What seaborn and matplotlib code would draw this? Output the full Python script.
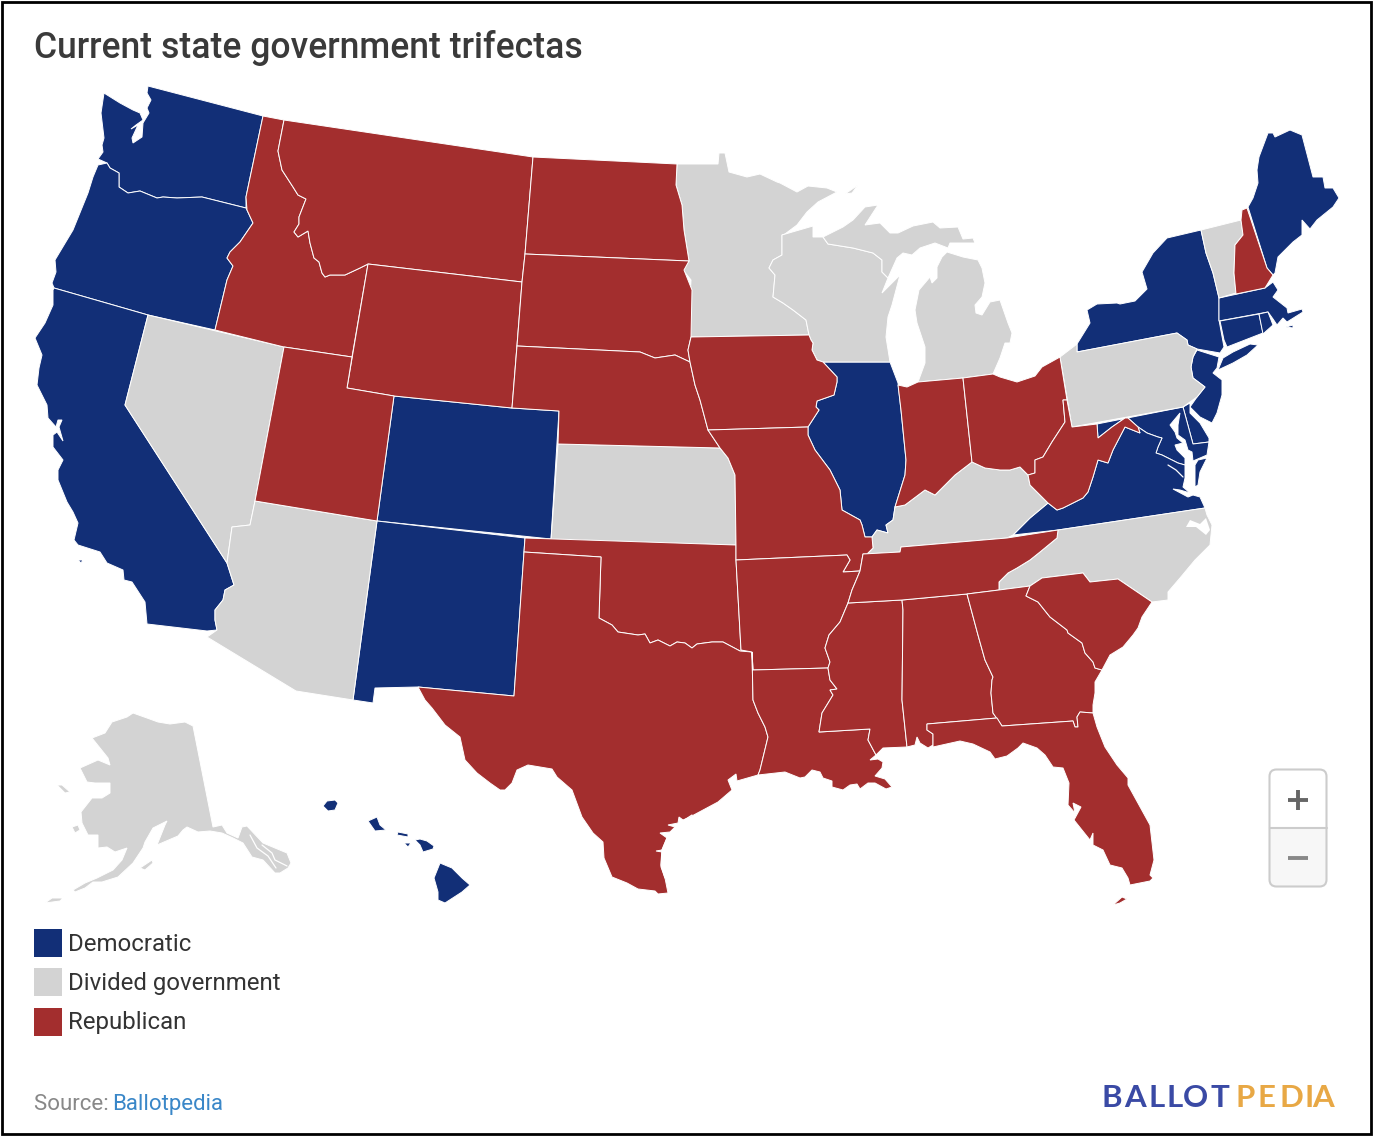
import matplotlib
matplotlib.use("Agg")
import matplotlib.pyplot as plt
from matplotlib.patches import FancyBboxPatch, Rectangle
import pandas as pd
import seaborn as sns

TITLE = "Current state government trifectas"
LEGEND_LABELS = ["Democratic", "Divided government", "Republican"]
COLORS = ["#122f77", "#d3d3d3", "#a32e2e"]

DEMOCRATIC = ["WA", "OR", "CA", "CO", "NM", "IL", "NY", "ME", "MA", "CT", "RI", "NJ", "DE", "MD", "VA", "HI"]
DIVIDED = ["NV", "AZ", "AK", "MN", "WI", "MI", "PA", "VT", "KS", "KY", "NC"]
REPUBLICAN = ["ID", "MT", "WY", "UT", "ND", "SD", "NE", "OK", "TX", "IA", "MO", "AR", "LA", "MS", "AL", "TN",
              "GA", "FL", "SC", "IN", "OH", "WV", "NH"]

RED_RIVER = [(599,618),(612,625),(618,632),(638,635),(645,634),(650,643),(658,640),(670,646),(677,642),(685,643),(692,648),(697,644),(712,642),(723,642),(740,651),(752,652)]

# State outlines (one list of rings per state)
OUTLINES = {
 "WA": [[(148,86),(263,116),(246,197),(246,208),(202,197),(177,198),(163,197),(157,198),(140,191),(128,193),(119,187),(119,173),(110,168),(107,163),(98,159),(103,152),(102,145),(104,138),(101,113),(104,93),(120,103),(133,110),(140,113),(143,120),(136,125),(131,129),(138,125),(132,138),(133,143),(142,137),(143,123),(149,113),(147,108),(151,100),(147,93)]],
 "OR": [[(98,165),(93,177),(88,193),(73,230),(55,260),(56,272),(52,283),(54,288),(148,315),(215,330),(227,280),(233,266),(227,258),(230,252),(240,242),(253,223),(247,210),(246,208),(202,197),(177,198),(163,197),(157,198),(140,191),(128,193),(119,187),(119,173),(110,168),(107,163)]],
 "CA": [[(54,288),(148,315),(125,405),(227,563),(234,585),(225,590),(223,600),(215,610),(215,620),(217,630),(207,631),(147,624),(145,602),(132,582),(124,580),(123,570),(107,563),(100,552),(78,545),(74,540),(78,523),(73,512),(67,502),(58,480),(58,470),(63,460),(53,447),(53,435),(57,432),(63,441),(59,427),(62,420),(58,420),(56,427),(48,418),(47,405),(37,385),(39,368),(42,355),(35,338),(45,323),(53,305),(53,290)],
        [(78,560),(83,560),(81,563)]],
 "NV": [[(148,315),(284,347),(255,501),(250,525),(232,527),(227,563),(125,405)]],
 "ID": [[(263,116),(284,120),(278,151),(282,170),(293,187),(298,195),(306,199),(299,217),(299,224),(294,232),(298,237),(308,231),(310,243),(314,258),(319,262),(322,273),(325,277),(330,275),(345,275),(360,268),(368,264),(352,357),(284,347),(215,330),(227,280),(233,266),(227,258),(230,252),(240,242),(253,223),(247,210),(246,197)]],
 "MT": [[(284,120),(533,157),(525,254),(522,282),(368,264),(360,268),(345,275),(330,275),(325,277),(322,273),(319,262),(314,258),(310,243),(308,231),(298,237),(294,232),(299,224),(299,217),(306,199),(298,195),(293,187),(282,170),(278,151)]],
 "WY": [[(368,264),(522,282),(512,408),(394,396),(347,388)]],
 "UT": [[(284,347),(352,357),(347,388),(394,396),(377,521),(255,501)]],
 "CO": [[(394,396),(512,408),(559,411),(551,539),(377,521)]],
 "NM": [[(377,521),(525,538),(524,552),(514,696),(418,687),(375,688),(373,703),(353,700)]],
 "AZ": [[(255,501),(377,521),(353,700),(296,691),(207,637),(217,630),(215,620),(215,610),(223,600),(225,590),(234,585),(227,563),(232,527),(250,525)]],
 "ND": [[(533,157),(677,164),(676,185),(682,205),(684,230),(689,261),(525,254)]],
 "SD": [[(525,254),(689,261),(684,270),(692,290),(691,337),(688,350),(690,362),(675,355),(655,358),(640,352),(517,346),(522,282)]],
 "NE": [[(517,346),(640,352),(655,358),(675,355),(690,362),(695,385),(700,400),(708,430),(720,448),(558,444),(559,411),(512,408)]],
 "KS": [[(558,444),(720,448),(728,458),(735,475),(736,545),(551,540)]],
 "OK": [[(525,538),(736,545),(736,560),(741,650),(752,652)] + RED_RIVER[::-1][1:] + [(601,557),(524,552)]],
 "TX": [[(524,552),(601,557)] + RED_RIVER + [(753,700),(758,713),(765,727),(768,737),(760,770),(758,775),(737,781),(736,774),(728,780),(732,790),(718,802),(690,817),(683,820),(679,817),(678,823),(668,825),(675,827),(670,832),(660,833),(667,838),(662,850),(656,851),(662,852),(661,867),(665,878),(668,893),(658,894),(655,891),(638,889),(627,883),(612,877),(604,858),(603,842),(593,833),(582,817),(572,790),(557,777),(552,769),(528,765),(517,770),(512,783),(505,790),(500,790),(490,783),(477,773),(465,760),(460,737),(445,725),(432,708),(425,700),(418,687),(514,696)]],
 "MN": [[(677,164),(718,164),(719,153),(725,153),(729,172),(747,177),(760,174),(777,182),(780,183),(797,192),(808,186),(827,188),(837,192),(818,202),(807,212),(797,225),(785,234),(782,235),(782,255),(773,260),(769,268),(775,275),(773,297),(783,303),(793,310),(806,320),(809,335),(688,337),(691,280),(683,270),(689,261),(684,230),(682,205),(676,185)]],
 "IA": [[(691,337),(809,335),(811,340),(813,343),(812,350),(817,360),(823,362),(837,377),(837,382),(834,395),(817,401),(816,407),(819,410),(808,427),(708,430),(700,400),(695,385),(690,362),(688,350)]],
 "MO": [[(708,430),(808,427),(808,435),(815,450),(830,470),(840,490),(842,510),(860,520),(862,525),(865,537),(872,537),(873,548),(867,554),(863,554),(860,571),(843,572),(850,560),(847,555),(736,560),(736,545),(735,475),(728,458),(720,448)]],
 "AR": [[(736,560),(847,555),(850,560),(843,572),(860,571),(855,583),(852,590),(848,603),(840,622),(829,635),(825,648),(830,662),(828,668),(753,670),(752,652),(741,650)]],
 "LA": [[(753,670),(828,668),(830,680),(837,689),(830,690),(833,695),(822,713),(819,732),(870,729),(868,740),(876,755),(870,760),(878,759),(883,762),(882,768),(875,776),(885,779),(892,787),(886,789),(875,783),(868,783),(860,789),(857,784),(850,785),(843,790),(832,787),(832,781),(823,778),(820,772),(812,770),(805,777),(800,778),(785,772),(758,775),(760,770),(768,737),(765,727),(758,713),(753,700),(752,652)]],
 "WI": [[(782,235),(813,226),(813,237),(823,237),(828,244),(853,248),(873,253),(882,260),(882,272),(888,278),(882,293),(900,275),(892,305),(888,317),(886,337),(890,362),(823,362),(817,360),(812,350),(813,343),(811,340),(809,335),(806,320),(793,310),(783,303),(773,297),(775,275),(769,268),(773,260),(782,255)]],
 "IL": [[(823,362),(890,362),(898,383),(901,410),(906,460),(905,475),(895,507),(893,520),(886,525),(888,533),(877,530),(872,537),(865,537),(862,525),(860,520),(842,510),(840,490),(830,470),(815,450),(808,435),(808,427),(819,410),(816,407),(817,401),(834,395),(837,382),(837,377)]],
 "MI": [[(823,237),(833,232),(843,227),(853,220),(865,207),(878,205),(865,225),(880,223),(890,233),(898,233),(913,226),(933,222),(940,228),(958,227),(963,239),(973,238),(975,243),(950,243),(948,248),(935,243),(920,248),(912,255),(903,253),(897,258),(888,278),(882,272),(882,260),(873,253),(853,248),(828,244)],
        [(918,382),(925,363),(925,347),(917,323),(915,310),(919,290),(930,277),(932,283),(937,278),(937,267),(942,257),(947,252),(963,257),(978,260),(982,268),(985,283),(982,297),(975,305),(976,313),(982,315),(990,302),(1000,300),(1008,323),(1012,333),(1010,343),(1005,343),(1000,358),(993,374),(963,378)],
        [(845,194),(858,185),(852,193)]],
 "IN": [[(898,385),(907,387),(918,382),(963,378),(972,462),(955,475),(945,485),(935,495),(925,490),(905,505),(895,507),(905,475),(906,460),(901,410)]],
 "OH": [[(963,378),(993,374),(1000,377),(1017,382),(1035,376),(1042,367),(1060,357),(1067,400),(1063,400),(1065,422),(1052,442),(1043,457),(1035,460),(1035,473),(1028,475),(1020,467),(1010,470),(1000,470),(985,468),(972,462)]],
 "KY": [[(895,507),(905,505),(925,490),(935,495),(945,485),(955,475),(972,462),(985,468),(1000,470),(1010,470),(1020,467),(1028,475),(1030,485),(1040,495),(1048,503),(1030,518),(1013,535),(1007,538),(901,547),(900,552),(867,554),(873,548),(872,537),(877,530),(888,533),(886,525),(893,520)]],
 "TN": [[(863,554),(900,552),(901,547),(1007,538),(1058,530),(1057,538),(1040,552),(1030,560),(1017,568),(1008,573),(999,582),(999,590),(967,594),(902,600),(848,603),(852,590),(855,583),(860,571)]],
 "MS": [[(848,603),(902,600),(903,610),(902,700),(907,747),(883,748),(876,755),(868,740),(870,729),(819,732),(822,713),(833,695),(830,690),(837,689),(830,680),(828,668),(830,662),(825,648),(829,635),(840,622)]],
 "AL": [[(902,600),(967,594),(978,635),(985,660),(993,677),(992,680),(991,693),(993,713),(997,718),(927,724),(927,730),(933,734),(933,745),(928,748),(920,743),(917,737),(915,745),(907,747),(902,700),(903,610)]],
 "GA": [[(967,594),(999,590),(1030,586),(1026,596),(1038,602),(1050,617),(1067,630),(1068,633),(1082,643),(1085,653),(1093,662),(1095,668),(1102,670),(1095,682),(1095,693),(1093,705),(1093,713),(1080,712),(1077,717),(1078,727),(1075,727),(1073,721),(1002,726),(993,713),(991,693),(992,680),(993,677),(985,660),(978,635)]],
 "SC": [[(1030,586),(1042,578),(1083,573),(1090,582),(1118,579),(1152,602),(1142,617),(1138,628),(1133,635),(1123,647),(1110,655),(1102,670),(1095,668),(1093,662),(1085,653),(1082,643),(1068,633),(1067,630),(1050,617),(1038,602),(1026,596)]],
 "FL": [[(927,724),(997,718),(1002,726),(1073,721),(1075,727),(1078,727),(1077,717),(1080,712),(1093,713),(1097,727),(1105,747),(1117,765),(1128,778),(1128,785),(1150,825),(1154,860),(1150,875),(1153,878),(1150,881),(1130,885),(1128,878),(1122,868),(1110,865),(1103,850),(1093,845),(1093,833),(1090,840),(1074,820),(1081,807),(1073,803),(1075,813),(1068,805),(1069,783),(1063,768),(1053,767),(1045,755),(1037,748),(1023,743),(1018,748),(1007,756),(995,759),(990,752),(973,744),(960,741),(933,747),(933,734),(927,730)],
        [(1113,905),(1122,897),(1127,899),(1120,903)]],
 "NC": [[(1205,508),(1058,530),(1057,538),(1040,552),(1030,560),(1017,568),(1008,573),(999,582),(999,590),(1030,586),(1042,578),(1083,573),(1090,582),(1118,579),(1152,602),(1168,600),(1168,592),(1180,578),(1195,560),(1210,545),(1212,525),(1207,515)]],
 "VA": [[(1125,427),(1140,433),(1138,427),(1147,433),(1158,437),(1162,438),(1158,447),(1156,453),(1162,455),(1168,458),(1178,463),(1185,465),(1185,478),(1183,487),(1190,493),(1180,490),(1173,489),(1188,497),(1193,495),(1200,497),(1205,508),(1058,530),(1013,535),(1030,518),(1048,503),(1057,510),(1063,508),(1075,502),(1083,498),(1088,492),(1093,477),(1098,460),(1108,463),(1113,450)],
        [(1198,460),(1207,458),(1200,472),(1198,485),(1195,487),(1195,465)]],
 "WV": [[(1072,427),(1097,424),(1098,438),(1112,427),(1125,418),(1128,418),(1138,427),(1140,433),(1125,427),(1113,450),(1108,463),(1098,460),(1093,477),(1088,492),(1083,498),(1075,502),(1063,508),(1057,510),(1048,503),(1040,495),(1030,485),(1028,475),(1035,473),(1035,460),(1043,457),(1052,442),(1065,422),(1063,400),(1067,400)]],
 "MD": [[(1097,424),(1183,407),(1193,444),(1209,442),(1207,455),(1193,461),(1192,452),(1188,450),(1185,440),(1178,435),(1178,425),(1180,413),(1170,425),(1175,432),(1177,438),(1183,443),(1175,445),(1177,450),(1185,458),(1185,465),(1178,463),(1168,458),(1162,455),(1156,453),(1158,447),(1162,438),(1158,437),(1147,433),(1138,427),(1128,418),(1125,418),(1112,427),(1098,438)]],
 "DE": [[(1183,407),(1190,403),(1190,413),(1200,423),(1209,438),(1209,442),(1193,444)]],
 "PA": [[(1060,357),(1077,344),(1077,352),(1177,333),(1187,340),(1188,345),(1197,349),(1193,357),(1191,367),(1193,378),(1205,387),(1197,397),(1183,407),(1072,427)]],
 "NJ": [[(1197,350),(1219,357),(1217,368),(1213,373),(1222,380),(1222,395),(1217,413),(1212,423),(1200,417),(1190,407),(1197,397),(1205,387),(1193,378),(1191,367),(1193,357)]],
 "NY": [[(1077,344),(1090,323),(1087,310),(1097,304),(1117,303),(1120,304),(1135,301),(1147,289),(1142,272),(1153,253),(1167,238),(1201,230),(1206,253),(1213,273),(1219,298),(1219,320),(1224,347),(1220,353),(1197,349),(1188,345),(1187,340),(1177,333),(1077,352)],
        [(1223,358),(1233,352),(1250,344),(1258,345),(1247,355),(1233,363),(1218,370)]],
 "VT": [[(1201,230),(1241,220),(1243,235),(1235,245),(1234,273),(1236,293),(1219,298),(1213,273),(1206,253)]],
 "NH": [[(1241,220),(1242,210),(1247,208),(1267,268),(1273,275),(1265,288),(1236,294),(1234,273),(1235,245),(1243,235)]],
 "ME": [[(1248,207),(1253,198),(1258,183),(1257,170),(1259,157),(1268,133),(1273,133),(1275,137),(1290,130),(1302,135),(1313,177),(1323,177),(1325,188),(1333,188),(1339,198),(1333,207),(1317,220),(1310,229),(1302,220),(1302,235),(1293,242),(1278,257),(1275,273),(1273,275),(1267,268)]],
 "MA": [[(1219,298),(1265,288),(1273,282),(1278,290),(1273,297),(1287,308),(1288,313),(1302,309),(1303,312),(1287,322),(1283,318),(1277,325),(1273,319),(1268,312),(1219,321)],
        [(1286,327),(1293,325),(1293,328)]],
 "CT": [[(1220,321),(1259,314),(1263,333),(1227,347),(1224,340)]],
 "RI": [[(1259,314),(1268,312),(1273,325),(1263,334)]],
 "AK": [[(133,713),(147,718),(158,722),(170,724),(185,722),(193,726),(213,827),(222,825),(227,833),(238,838),(242,827),(247,826),(263,843),(287,853),(291,863),(288,868),(280,873),(275,873),(263,860),(252,857),(243,843),(233,838),(222,833),(210,831),(198,832),(187,827),(183,830),(178,836),(157,845),(165,825),(167,821),(153,828),(145,842),(143,848),(133,863),(118,877),(102,882),(93,882),(85,888),(75,892),(73,890),(85,883),(97,878),(113,870),(122,860),(127,848),(115,852),(107,847),(98,848),(98,835),(88,835),(82,823),(81,812),(92,798),(102,798),(110,793),(110,783),(95,783),(87,782),(80,768),(98,760),(110,765),(108,758),(100,748),(92,738),(105,733),(112,722),(127,717)],
        [(57,785),(62,785),(70,792),(65,793)],
        [(72,827),(78,825),(80,830),(75,833)],
        [(140,868),(152,860),(153,863),(145,870)],
        [(45,903),(52,898),(62,898),(65,896),(60,901)]],
 "HI": [[(323,806),(327,801),(335,800),(338,803),(335,810),(328,811)],
        [(368,821),(377,817),(380,825),(386,830),(375,831)],
        [(397,835),(398,832),(408,834),(408,837)],
        [(404,843),(411,843),(408,847)],
        [(415,840),(420,839),(427,841),(434,846),(433,849),(423,852),(420,845)],
        [(440,863),(452,868),(462,878),(470,885),(462,892),(445,903),(438,900),(438,892),(434,878)]],
}
# Water shown inside outlines
SOUND = [(1186,527),(1190,520),(1200,524),(1206,518),(1210,530),(1206,535),(1196,527)]
CHANNELS = [
    [(665,878),(661,865),(662,850),(667,838),(680,823),(692,815)],
    [(1168,465),(1176,470),(1183,477)],
    [(250,835),(257,848),(268,856),(276,868)],
    [(262,845),(272,853),(275,860),(287,866)],
]

LOGO_LEFT = list("BALLOT")
LOGO_LEFT_X = [1112, 1135, 1156.5, 1174.5, 1196, 1220]
LOGO_RIGHT = list("PEDIA")
LOGO_RIGHT_X = [1245, 1267, 1291.5, 1309.5, 1323]

sns.set_theme(style="white")
plt.rcParams["font.family"] = ["Roboto", "DejaVu Sans"]

fig = plt.figure(figsize=(13.74, 11.38), dpi=100)
ax = fig.add_axes([0, 0, 1, 1])
ax.set_xlim(0, 1374)
ax.set_ylim(1138, 0)
ax.axis("off")

palette = dict(zip(LEGEND_LABELS, sns.color_palette(COLORS)))
groups = {"Democratic": DEMOCRATIC, "Divided government": DIVIDED, "Republican": REPUBLICAN}
for label, states in groups.items():
    for st in states:
        for ring in OUTLINES[st]:
            xs, ys = zip(*ring)
            ax.fill(xs, ys, facecolor=palette[label], edgecolor="white", linewidth=0.7, zorder=2)
xs, ys = zip(*SOUND)
ax.fill(xs, ys, facecolor="white", edgecolor="none", zorder=3)
for line in CHANNELS:
    xs, ys = zip(*line)
    ax.plot(xs, ys, color="white", lw=0.9, zorder=3)

# frame
ax.add_patch(Rectangle((2, 2), 1369, 1132, fill=False, edgecolor="black", linewidth=2, zorder=5))

# title
ax.text(34, 43.5, TITLE, fontsize=25.6, fontweight=500, color="#3a3a3a", va="center_baseline", ha="left")

# legend
legend_df = pd.DataFrame({"x": [48, 48, 48], "y": [943, 982, 1022], "label": LEGEND_LABELS})
sns.scatterplot(data=legend_df, x="x", y="y", hue="label", palette=palette, marker="s",
                s=400, linewidth=0, legend=False, ax=ax, zorder=4)
ax.set_xlim(0, 1374)
ax.set_ylim(1138, 0)
for y, label in zip([941.5, 981, 1020.5], LEGEND_LABELS):
    ax.text(68, y, label, fontsize=17.25, color="#333333", va="center_baseline", ha="left")

# source
ax.text(34, 1102, "Source: ", fontsize=16, color="#888888", va="center_baseline", ha="left")
ax.text(112.5, 1102, "Ballotpedia", fontsize=16, color="#3a87c8", va="center_baseline", ha="left")

# logo
for ch, x in zip(LOGO_LEFT, LOGO_LEFT_X):
    ax.text(x, 1107, ch, fontsize=22.5, fontweight="bold", family="Lato", color="#3a4aa5", va="baseline", ha="center")
for ch, x in zip(LOGO_RIGHT, LOGO_RIGHT_X):
    ax.text(x, 1107, ch, fontsize=22.5, fontweight="bold", family="Lato", color="#e8a845", va="baseline", ha="center")

# zoom control
ax.add_patch(FancyBboxPatch((1269.5, 769.5), 57, 117, boxstyle="round,pad=0,rounding_size=7",
                            facecolor="#f7f7f7", edgecolor="none", zorder=4))
ax.add_patch(FancyBboxPatch((1269.5, 769.5), 57, 40, boxstyle="round,pad=0,rounding_size=7",
                            facecolor="white", edgecolor="none", zorder=4))
ax.add_patch(Rectangle((1269.5, 785), 57, 42.5, facecolor="white", edgecolor="none", zorder=4))
ax.add_patch(FancyBboxPatch((1269.5, 769.5), 57, 117, boxstyle="round,pad=0,rounding_size=7",
                            fill=False, edgecolor="#cccccc", linewidth=1.5, zorder=5))
ax.plot([1269.5, 1326.5], [827.5, 827.5], color="#cccccc", lw=1.5, zorder=5)
ax.plot([1288, 1308], [800, 800], color="#666666", lw=2.8, solid_capstyle="butt", zorder=6)
ax.plot([1298, 1298], [790, 810], color="#666666", lw=2.8, solid_capstyle="butt", zorder=6)
ax.plot([1288, 1308], [858, 858], color="#888888", lw=2.8, solid_capstyle="butt", zorder=6)

fig.savefig("out.png", dpi=100, facecolor="white")
